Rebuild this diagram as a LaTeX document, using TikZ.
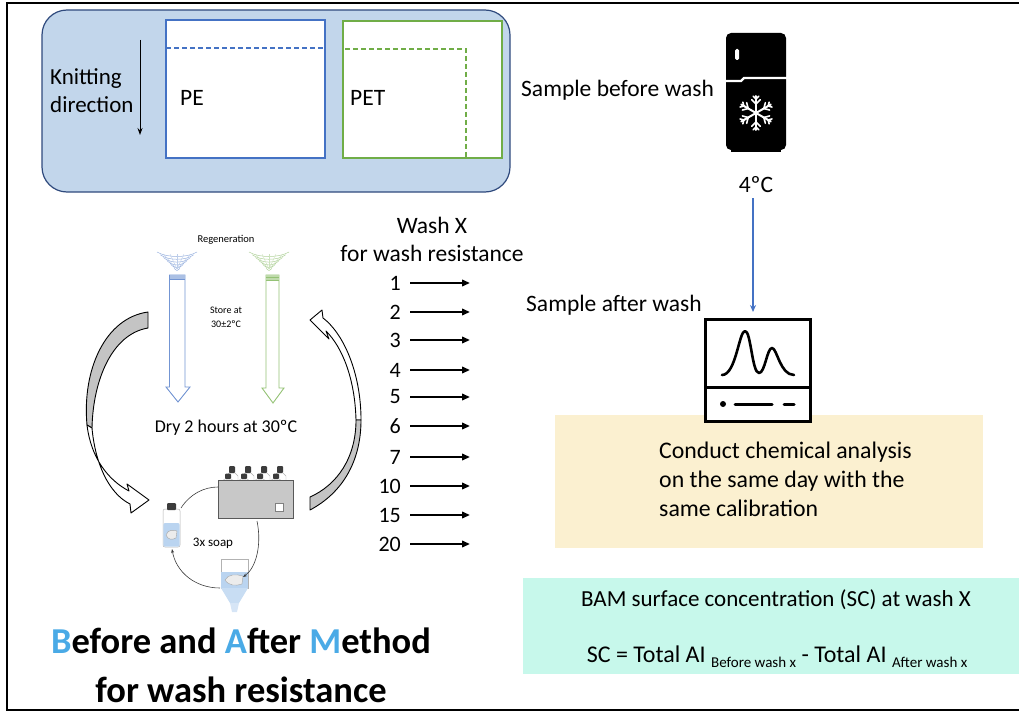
\documentclass[tikz,border=0pt]{standalone}
\usepackage{fontspec}
\setmainfont{Carlito}
\usetikzlibrary{arrows.meta,calc}

\definecolor{panelblue}{RGB}{194,214,235}
\definecolor{paneledge}{RGB}{47,74,125}
\definecolor{peblue}{RGB}{68,114,196}
\definecolor{petgreen}{RGB}{112,173,71}
\definecolor{cream}{RGB}{251,240,208}
\definecolor{mint}{RGB}{199,248,235}
\definecolor{skyletter}{RGB}{74,170,230}
\definecolor{machinegrey}{RGB}{200,200,200}
\definecolor{bandfill}{RGB}{196,196,196}
\definecolor{water}{RGB}{186,212,240}
\definecolor{capgrey}{RGB}{60,60,60}

\tikzset{
  lbl/.style={inner sep=0pt, font=\fontsize{23.5}{29}\selectfont},
  numlbl/.style={inner sep=0pt, anchor=east, font=\fontsize{22}{26}\selectfont},
  washarrow/.style={-{Triangle[length=8pt,width=6.5pt]}, line width=2pt, shorten <=9pt},
  smalllbl/.style={inner sep=0pt, font=\fontsize{10.5}{13}\selectfont},
  titlelbl/.style={inner sep=0pt, font=\fontsize{36.5}{40}\selectfont\bfseries},
  bandgrey/.style={draw=black, line width=0.9pt, fill=bandfill, line join=round},
  bandwhite/.style={draw=black, line width=0.9pt, fill=white, line join=round},
  cyclearrow/.style={draw=capgrey, line width=0.6pt},
}

\begin{document}
\begin{tikzpicture}[x=1pt,y=-1pt]
\useasboundingbox (0,0) rectangle (1019,714);

% page frame (open on the right)
\draw[line width=2pt] (1019,3) -- (7,3) -- (7,710) -- (1019,710);

% ---- fabric samples panel ----
\draw[paneledge, fill=panelblue, line width=1.2pt, rounded corners=25pt] (42,10) rectangle (510,192);
\draw[peblue, fill=white, line width=1.1pt] (166,20) rectangle (325,158);
\draw[peblue, line width=1.2pt, dash pattern=on 5pt off 3pt] (166,48) -- (325,48);
\draw[petgreen, fill=white, line width=1.1pt] (343,21) rectangle (502,158);
\draw[petgreen, line width=1.2pt, dash pattern=on 5pt off 3pt] (345,49) -- (466,49) -- (466,157);
\node[lbl, anchor=west, align=left, font=\fontsize{23}{28}\selectfont] (knit) at (50,91) {Knitting\\direction};
\coordinate (kstart) at (140,40);
\coordinate (kend) at (140,135);
\draw[-{Stealth[length=7pt,width=5pt]}, line width=1pt] (kstart) -- (kend);
\node[lbl, anchor=west] (pe) at (180,98) {PE};
\node[lbl, anchor=west] (pet) at (350,98) {PET};

% ---- storage before wash ----
\node[lbl, anchor=west] (before) at (521,90) {Sample before wash};
\fill[rounded corners=5pt] (726,33) rectangle (786,150);
\fill (731,149) rectangle (781,152.5);
\draw[white, line width=2.2pt] (724,81) -- (741,81) -- (744,78) -- (788,78);
\fill[white, rounded corners=1.5pt] (735,49) rectangle (739,60);
\foreach \a in {90,150,210,270,330,390} {
  \draw[white, line width=2pt, line cap=round] (756,113) -- ++(\a:17);
  \draw[white, line width=1.6pt, line cap=round] ($(756,113)+(\a:9)$) -- ++(\a+45:6);
  \draw[white, line width=1.6pt, line cap=round] ($(756,113)+(\a:9)$) -- ++(\a-45:6);
  \draw[white, line width=1.6pt, line cap=round] ($(756,113)+(\a:14)$) -- ++(\a+45:4);
  \draw[white, line width=1.6pt, line cap=round] ($(756,113)+(\a:14)$) -- ++(\a-45:4);
}
\node[lbl] (t4c) at (756,185) {4ºC};

% ---- analysis ----
\fill[cream] (555,415) rectangle (983,548);
\node[draw, line width=3pt, fill=white, minimum width=105, minimum height=102, inner sep=0pt] (ana) at (758,370.5) {};
\draw[line width=3pt] (ana.west |- 0,387) -- (ana.east |- 0,387);
\draw[line width=2.6pt, line cap=round, line join=round]
  (722,375) .. controls (736,375) and (739,331) .. (745,331)
  .. controls (751,331) and (752,373) .. (759,373)
  .. controls (765,373) and (767,348) .. (772,348)
  .. controls (777,348) and (780,375) .. (794,375);
\fill (723,404) circle (3pt);
\draw[line width=3pt, line cap=round] (735,404) -- (772,404);
\draw[line width=3pt, line cap=round] (784,404) -- (794,404);
\draw[peblue, line width=1.5pt, -{Stealth[length=7pt,width=6pt]}, shorten <=5pt, shorten >=6pt]
  ([xshift=-3pt]t4c.south) -- ([xshift=-3pt]t4c.south |- ana.north);
\node[lbl, anchor=west] (after) at (526,305) {Sample after wash};
\node[lbl, anchor=west, align=left, font=\fontsize{23.8}{29}\selectfont] (conduct) at (659,479)
  {Conduct chemical analysis\\on the same day with the\\same calibration};

% ---- result ----
\fill[mint] (523,578) rectangle (1019,674);
\node[lbl, font=\fontsize{23}{26}\selectfont] (bam) at (776,600) {BAM surface concentration (SC) at wash X};
\node[lbl, font=\fontsize{24}{26}\selectfont] (sc) at (777,657)
  {SC = Total AI {\fontsize{15}{15}\selectfont\raisebox{-5pt}{Before wash x}} - Total AI {\fontsize{15}{15}\selectfont\raisebox{-5pt}{After wash x}}};

% ---- wash schedule ----
\node[lbl, align=center, font=\fontsize{23.5}{28}\selectfont] (washx) at (432,239) {Wash X\\for wash resistance};
\foreach \n/\y in {1/283,2/312,3/340,4/370,5/397,6/426,7/457,10/486,15/515,20/544} {
  \node[numlbl] (w\n) at (401,\y) {\n};
  \coordinate (we\n) at (470,\y);
  \draw[washarrow] (w\n.east) -- (we\n);
}

% ---- wash cycle ----
\node[smalllbl] (regen) at (226,240) {Regeneration};
% spray fans
\foreach \cx/\col in {177/peblue, 269/petgreen} {
  \foreach \i in {0,...,5} {
    \pgfmathsetmacro{\w}{20-3.3*\i}
    \pgfmathsetmacro{\yy}{252+2.8*\i}
    \draw[\col!55, line width=0.5pt] (\cx-\w,\yy) .. controls (\cx-\w/2,\yy+6) and (\cx+\w/2,\yy+6) .. (\cx+\w,\yy);
  }
  \foreach \d in {-14,-7,0,7,14} {
    \draw[\col!35, line width=0.4pt] (\cx,269) -- (\cx+\d,254);
  }
}
% hollow drying arrows
\draw[peblue!75, line width=0.9pt, fill=white, line join=miter]
  (169.5,275) -- (185,275) -- (185,387) -- (190,387) -- (178,402) -- (166,387) -- (169.5,387) -- cycle;
\fill[peblue!45] (169.5,275) rectangle (185,279);
\draw[peblue!75, line width=0.6pt] (169.5,279) -- (185,279);
\draw[petgreen!75, line width=0.9pt, fill=white, line join=miter]
  (266,275) -- (279,275) -- (279,388) -- (284,388) -- (273,403) -- (262,388) -- (266,388) -- cycle;
\fill[petgreen!45] (266,275) rectangle (279,280);
\draw[petgreen!75, line width=0.6pt] (266,277.5) -- (279,277.5);
\draw[petgreen!75, line width=0.6pt] (266,280) -- (279,280);
\node[smalllbl, align=center, font=\fontsize{10}{14}\selectfont] (store) at (226,317) {Store at\\30±2ºC};

% curved return arrows
\draw[bandgrey] (148,312) .. controls (105,318) and (82,370) .. (87,425)
  -- (92,428) .. controls (93,380) and (112,334) .. (148,328) -- cycle;
\draw[bandwhite] (87,425) .. controls (91,458) and (108,480) .. (129,491)
  -- (127,484) -- (149,500) -- (131,513) -- (130,504)
  .. controls (108,493) and (95,462) .. (92,428) -- cycle;
\draw[bandwhite] (323,318) .. controls (343,333) and (361,372) .. (361,420)
  -- (356,420) .. controls (355,380) and (343,348) .. (326,331)
  -- (329,339) -- (310,320) -- (322,310) -- cycle;
\draw[bandgrey] (361,420) .. controls (361,462) and (342,493) .. (310,510)
  -- (310,497) .. controls (337,485) and (356,458) .. (356,420) -- cycle;

\node[lbl, font=\fontsize{18}{20}\selectfont] (dry) at (226,428) {Dry 2 hours at 30ºC};

% washing bath with bottles
\foreach \bx in {232,248,264,280} {
  \draw[gray!60, fill=white] (\bx-6,480) -- (\bx-6,476) -- (\bx-3,473) -- (\bx+3,473) -- (\bx+6,476) -- (\bx+6,480);
  \fill[capgrey, rounded corners=1pt] (\bx-3,466) rectangle (\bx+3,473);
}
\foreach \bx in {228,244,260,276} {
  \draw[gray!60, fill=white] (\bx-6,482) -- (\bx-6,481) -- (\bx-3,479) -- (\bx+3,479) -- (\bx+6,481) -- (\bx+6,482);
  \fill[capgrey, rounded corners=1pt] (\bx-3,473.5) rectangle (\bx+3,479);
}
\draw[gray!70!black, fill=machinegrey, line width=0.6pt] (218,480) rectangle (293,518);
\draw[gray, fill=white, line width=0.4pt] (275,503) rectangle (283,511);
\coordinate (bathleft) at (218,487);
\coordinate (bathbottom) at (257,521);

% sample bottle
\draw[gray!60, fill=white, line width=0.5pt, rounded corners=2pt] (163,509) rectangle (180,547);
\fill[water, rounded corners=2pt] (163.3,523) rectangle (179.7,546.7);
\draw[gray!70, fill=gray!15, line width=0.4pt] (166,535) .. controls (168,529) and (174,530) .. (177,531) -- (176,538) .. controls (172,540) and (168,540) .. (166,535);
\fill[capgrey, rounded corners=1pt] (167,503) rectangle (176,510);
\coordinate (bottletop) at (181,508);
\coordinate (bottlebottom) at (172,549);

% rinsing funnel
\draw[gray!60, fill=white, line width=0.5pt] (221,559) rectangle (248,588);
\fill[water] (221.3,572) rectangle (247.7,588);
\draw[gray!70, fill=gray!15, line width=0.4pt] (225,580) .. controls (228,574) and (236,574) .. (243,576) -- (242,584) .. controls (236,586) and (229,586) .. (225,580);
\fill[water!80] (221,588) -- (248,588) -- (239,603) -- (230,603) -- cycle;
\fill[water!60] (230,603) -- (239,603) -- (237,612) -- (232,612) -- cycle;
\coordinate (funnelright) at (243,577);
\coordinate (funnelleft) at (220,588);

\draw[cyclearrow] (bottletop) .. controls (190,494) and (204,487) .. (bathleft);
\draw[cyclearrow, -{Stealth[length=4pt,width=3pt]}] (bathbottom) .. controls (262,545) and (256,568) .. (funnelright);
\draw[cyclearrow, -{Stealth[length=4pt,width=3pt]}] (funnelleft) .. controls (195,588) and (176,572) .. (bottlebottom);
\node[smalllbl, font=\fontsize{13}{15}\selectfont] (soap) at (213,543) {3x soap};

% ---- title ----
\node[titlelbl] (title1) at (241,641)
  {{\color{skyletter}B}efore and {\color{skyletter}A}fter {\color{skyletter}M}ethod};
\node[titlelbl] (title2) at (241,690) {for wash resistance};
\end{tikzpicture}
\end{document}
